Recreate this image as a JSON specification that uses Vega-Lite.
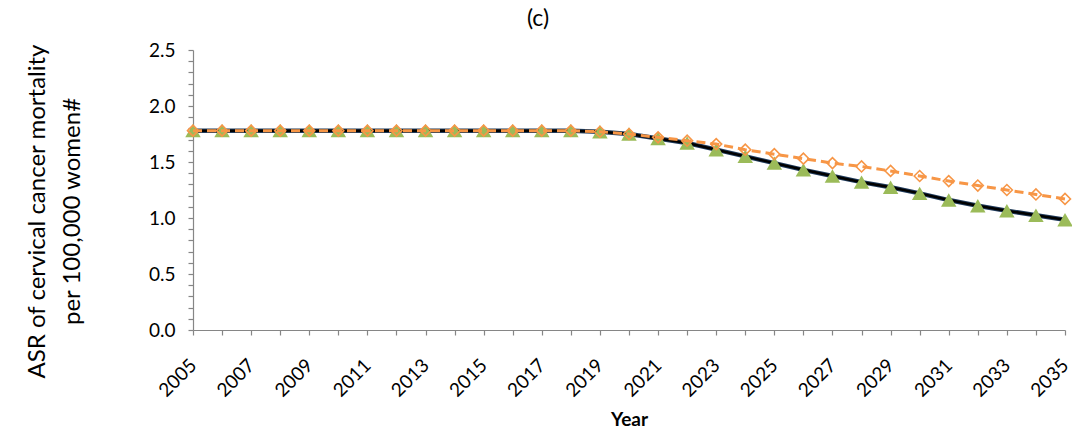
{
  "$schema": "https://vega.github.io/schema/vega-lite/v6.json",
  "autosize": {"type": "none"},
  "width": 872,
  "height": 280,
  "padding": {"left": 193, "top": 50, "right": 7, "bottom": 101},
  "background": "white",
  "title": {"text": "(c)", "font": "Lato", "fontSize": 23, "fontWeight": "normal", "color": "#000000", "anchor": "middle", "dx": -91, "offset": 10},
  "config": {"view": {"stroke": null}, "font": "Lato"},
  "data": {"values": [
    {"year": 2005, "g": 1.78, "o": 1.78},
    {"year": 2006, "g": 1.78, "o": 1.78},
    {"year": 2007, "g": 1.78, "o": 1.78},
    {"year": 2008, "g": 1.78, "o": 1.78},
    {"year": 2009, "g": 1.78, "o": 1.78},
    {"year": 2010, "g": 1.78, "o": 1.78},
    {"year": 2011, "g": 1.78, "o": 1.78},
    {"year": 2012, "g": 1.78, "o": 1.78},
    {"year": 2013, "g": 1.78, "o": 1.78},
    {"year": 2014, "g": 1.78, "o": 1.78},
    {"year": 2015, "g": 1.78, "o": 1.78},
    {"year": 2016, "g": 1.78, "o": 1.78},
    {"year": 2017, "g": 1.78, "o": 1.78},
    {"year": 2018, "g": 1.78, "o": 1.78},
    {"year": 2019, "g": 1.77, "o": 1.77},
    {"year": 2020, "g": 1.75, "o": 1.75},
    {"year": 2021, "g": 1.71, "o": 1.72},
    {"year": 2022, "g": 1.67, "o": 1.69},
    {"year": 2023, "g": 1.61, "o": 1.66},
    {"year": 2024, "g": 1.55, "o": 1.61},
    {"year": 2025, "g": 1.49, "o": 1.57},
    {"year": 2026, "g": 1.43, "o": 1.53},
    {"year": 2027, "g": 1.375, "o": 1.49},
    {"year": 2028, "g": 1.32, "o": 1.46},
    {"year": 2029, "g": 1.275, "o": 1.42},
    {"year": 2030, "g": 1.22, "o": 1.375},
    {"year": 2031, "g": 1.16, "o": 1.33},
    {"year": 2032, "g": 1.11, "o": 1.29},
    {"year": 2033, "g": 1.065, "o": 1.25},
    {"year": 2034, "g": 1.025, "o": 1.21},
    {"year": 2035, "g": 0.985, "o": 1.17}
  ]},
  "encoding": {
    "x": {
      "field": "year", "type": "quantitative",
      "scale": {"domain": [2005, 2035], "nice": false, "zero": false},
      "axis": {
        "title": "Year", "titleFont": "Lato", "titleFontSize": 19, "titleFontWeight": "bold", "titleColor": "#000000", "titlePadding": 10,
        "values": [2005,2006,2007,2008,2009,2010,2011,2012,2013,2014,2015,2016,2017,2018,2019,2020,2021,2022,2023,2024,2025,2026,2027,2028,2029,2030,2031,2032,2033,2034,2035],
        "labelExpr": "datum.value % 2 == 1 ? format(datum.value, 'd') : ''",
        "labelAngle": -45, "labelAlign": "right", "labelBaseline": "middle", "labelFont": "Lato", "labelFontSize": 19, "labelColor": "#000000", "labelPadding": 27,
        "labelOverlap": false, "labelFlush": false,
        "grid": false, "domainColor": "#868686", "tickColor": "#868686", "tickSize": 5, "domainWidth": 1.2, "tickWidth": 1.2
      }
    },
    "y": {
      "type": "quantitative",
      "scale": {"domain": [0, 2.5], "nice": false},
      "axis": {
        "title": ["ASR of cervical cancer mortality", "per 100,000 women#"],
        "titleFont": "Lato", "titleFontSize": 24, "titleFontWeight": "normal", "titleColor": "#000000",
        "titleX": -156, "titleY": 161, "titleAngle": -90, "titleAlign": "center", "titleBaseline": "middle", "titleLineHeight": 35,
        "values": [0,0.1,0.2,0.3,0.4,0.5,0.6,0.7,0.8,0.9,1,1.1,1.2,1.3,1.4,1.5,1.6,1.7,1.8,1.9,2,2.1,2.2,2.3,2.4,2.5],
        "labelExpr": "abs(datum.value*2 - round(datum.value*2)) < 0.001 ? format(datum.value, '.1f') : ''",
        "labelFont": "Lato", "labelFontSize": 19, "labelColor": "#000000", "labelPadding": 13,
        "labelOverlap": false, "labelFlush": false,
        "grid": false, "domainColor": "#868686", "tickColor": "#868686", "tickSize": 5, "domainWidth": 1.2, "tickWidth": 1.2
      }
    }
  },
  "layer": [
    {"mark": {"type": "line", "color": "#1F3A5A", "strokeWidth": 4.5}, "encoding": {"y": {"field": "g", "type": "quantitative"}}},
    {"mark": {"type": "line", "color": "#000000", "strokeWidth": 2.5}, "encoding": {"y": {"field": "g", "type": "quantitative"}}},
    {"mark": {"type": "point", "shape": "triangle-up", "filled": true, "color": "#9BBB59", "size": 240, "opacity": 1}, "encoding": {"y": {"field": "g", "type": "quantitative"}}},
    {"mark": {"type": "line", "color": "#F79646", "strokeWidth": 3, "strokeDash": [9, 5]}, "encoding": {"y": {"field": "o", "type": "quantitative"}}},
    {"mark": {"type": "point", "shape": "diamond", "filled": false, "stroke": "#F79646", "fill": "white", "fillOpacity": 0, "strokeWidth": 1.6, "size": 120, "opacity": 1}, "encoding": {"y": {"field": "o", "type": "quantitative"}}}
  ]
}
